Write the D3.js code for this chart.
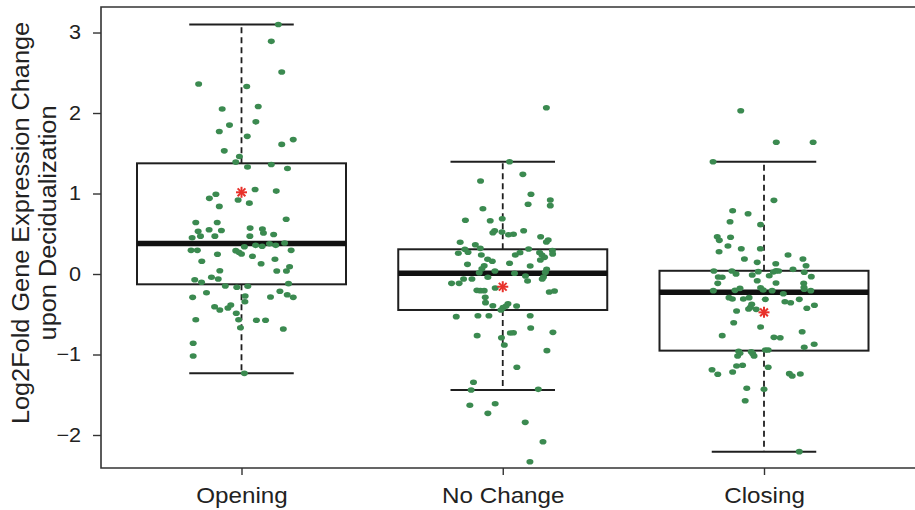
<!DOCTYPE html>
<html>
<head>
<meta charset="utf-8">
<script src="https://cdn.jsdelivr.net/npm/d3@7"></script>
<style>
  html, body { margin: 0; padding: 0; background: #fff; }
  svg { display: block; font-family: "Liberation Sans", Arial, Helvetica, sans-serif; }
</style>
</head>
<body>
<svg id="chart" width="915" height="510"></svg>
<script>
// Groups of genes by chromatin accessibility change
const categories = ["Opening", "No Change", "Closing"];

// Box-plot summaries (log2 fold change)
const whiskerHigh = [3.10, 1.395, 1.395];
const upperQuartile = [1.375, 0.307, 0.04];
const medians = [0.38, 0.01, -0.228];
const lowerQuartile = [-0.128, -0.447, -0.952];
const whiskerLow = [-1.234, -1.441, -2.207];
const meanValues = [1.015, -0.158, -0.476];

// Per-gene values and their horizontal jitter (in category units)
const openingValues = [3.10, 2.89, 2.51, 2.36, 2.33, 2.05, 2.08, 1.85, 1.89, 1.77, 1.71, 1.61, 1.67, 1.53, 1.46, 1.39, 1.33, 1.36, 1.31, 1.05, 1.03, 0.99, 0.94, 0.92, 0.88, 0.84, 0.68, 0.64, 0.64, 0.53, 0.55, 0.54, 0.57, 0.56, 0.51, 0.49, 0.47, 0.47, 0.45, 0.47, 0.385, 0.356, 0.344, 0.376, 0.356, 0.339, 0.294, 0.294, 0.29, 0.269, 0.248, 0.294, 0.245, 0.22, 0.158, 0.183, 0.128, 0.041, 0.037, 0.091, 0.037, -0.041, -0.062, -0.071, -0.103, -0.12, -0.149, -0.165, -0.153, -0.232, -0.215, -0.29, -0.273, -0.286, -0.257, -0.29, -0.406, -0.447, -0.422, -0.385, -0.344, -0.488, -0.568, -0.568, -0.575, -0.575, -0.667, -0.683, -0.861, -1.019, -1.234];
const openingJitter = [0.141, 0.114, 0.154, -0.164, 0.020, -0.074, 0.064, -0.046, 0.055, -0.085, 0.022, 0.154, 0.198, -0.066, -0.008, -0.022, 0.023, 0.114, 0.176, 0.052, 0.133, -0.098, -0.123, -0.013, 0.030, -0.085, 0.171, -0.175, -0.093, -0.166, -0.124, -0.077, 0.033, 0.080, 0.084, 0.123, -0.157, -0.102, -0.189, 0.032, 0.165, 0.054, 0.079, 0.107, 0.131, 0.011, -0.193, -0.169, -0.022, -0.010, 0, 0.190, -0.092, 0.042, -0.152, 0.128, 0.075, -0.083, 0.135, 0.184, 0.172, -0.115, -0.089, -0.179, -0.153, 0.180, -0.062, -0.018, 0.024, -0.134, 0.147, -0.187, 0.014, 0.111, 0.175, 0.198, -0.103, -0.083, -0.052, -0.041, 0.013, -0.020, -0.175, -0.011, 0.057, 0.092, -0.004, 0.160, -0.185, -0.185, 0.011];

const noChangeValues = [2.066, 1.395, 1.238, 1.155, 0.990, 0.866, 0.919, 0.849, 0.811, 0.667, 0.662, 0.687, 0.538, 0.513, 0.522, 0.488, 0.493, 0.538, 0.463, 0.398, 0.422, 0.394, 0.364, 0.307, 0.27, 0.319, 0.311, 0.236, 0.183, 0.158, 0.12, 0.133, 0.236, 0.265, 0.265, 0.236, 0.207, 0.174, 0.29, 0.248, 0.099, 0.103, 0.066, 0.016, 0.037, 0.058, 0.021, 0.009, 0.257, -0.025, -0.087, -0.041, -0.062, -0.062, -0.116, -0.116, -0.174, -0.203, -0.207, -0.207, -0.224, -0.211, -0.29, -0.356, -0.394, -0.37, -0.398, -0.418, -0.447, -0.398, -0.53, -0.518, -0.518, -0.518, -0.766, -0.791, -0.882, -0.733, -0.729, -0.671, -0.725, -0.952, -1.159, -1.345, -1.441, -1.433, -1.631, -1.611, -1.731, -1.843, -2.083, -2.332, -0.037, -0.062];
const noChangeJitter = [0.167, 0.026, 0.077, -0.085, 0.108, 0.097, 0.182, 0.182, -0.076, -0.143, -0.048, -0.002, -0.031, -0.038, -0.003, 0.022, 0.041, 0.080, 0.145, 0.167, 0.174, -0.163, -0.105, -0.145, -0.133, -0.086, 0.099, -0.082, -0.058, -0.040, -0.135, 0.026, 0.048, 0.066, 0.141, 0.150, 0.160, 0.144, 0.190, 0.191, 0.105, -0.071, -0.080, -0.090, -0.030, 0.168, 0.163, 0.045, -0.170, 0.087, 0.095, -0.057, -0.118, -0.150, -0.167, -0.196, -0.029, -0.099, -0.086, -0.071, 0.178, 0.198, -0.067, -0.066, -0.038, 0.020, 0.013, 0.001, -0.007, 0.053, -0.178, -0.095, -0.053, 0.105, -0.098, -0.005, 0.006, 0.029, 0.041, 0.107, 0.192, 0.169, 0.054, -0.112, -0.121, 0.136, -0.126, -0.029, -0.057, 0.086, 0.154, 0.104, 0.156, 0.151];

const closingValues = [2.029, 1.636, 1.636, 1.395, 0.915, 0.786, 0.749, 0.65, 0.613, 0.463, 0.418, 0.456, 0.348, 0.314, 0.314, 0.277, 0.236, 0.186, 0.186, 0.145, 0.128, 0.103, 0.037, 0.037, 0.0, 0.029, 0.025, 0.041, 0.037, 0.058, 0.021, -0.033, -0.037, -0.041, -0.012, -0.021, -0.083, -0.116, -0.112, -0.116, -0.19, -0.207, -0.203, -0.178, -0.17, -0.199, -0.207, -0.207, -0.245, -0.294, -0.311, -0.311, -0.294, -0.315, -0.344, -0.357, -0.315, -0.377, -0.414, -0.435, -0.439, -0.46, -0.426, -0.389, -0.605, -0.658, -0.766, -0.717, -0.787, -0.791, -0.911, -0.873, -0.96, -0.985, -1.019, -0.965, -0.99, -1.019, -0.944, -0.944, -1.143, -1.134, -1.189, -1.246, -1.217, -1.159, -1.238, -1.267, -1.242, -1.42, -1.433, -1.574, -2.207, -0.166];
const closingJitter = [-0.089, 0.047, 0.188, -0.195, 0.038, -0.120, -0.061, -0.130, -0.013, -0.179, -0.171, -0.128, -0.138, -0.087, -0.014, -0.172, 0.092, 0.149, -0.075, -0.026, 0.045, 0.161, -0.192, -0.123, -0.107, -0.022, 0.036, 0.046, 0.056, 0.111, 0.154, 0.181, -0.175, -0.160, -0.045, 0.020, -0.026, -0.177, 0.046, 0.152, 0.154, -0.194, -0.111, -0.092, -0.013, -0.003, 0.031, 0.179, 0.074, -0.134, -0.121, -0.079, -0.057, 0.005, 0.080, 0.102, 0.135, -0.047, -0.052, -0.059, -0.030, -0.105, 0.164, 0.193, -0.116, -0.013, -0.160, 0.146, 0.038, 0.062, 0.154, 0.192, -0.097, -0.092, -0.101, -0.049, -0.043, -0.038, 0.005, 0.016, -0.105, -0.082, -0.199, -0.177, -0.120, 0.016, 0.097, 0.108, 0.139, -0.066, 0, -0.072, 0.135, 0.153];

const yTicks = [-2, -1, 0, 1, 2, 3];
const titleLines = ["Log2Fold Gene Expression Change", "upon Decidualization"];

const groupValues = [openingValues, noChangeValues, closingValues];
const groupJitter = [openingJitter, noChangeJitter, closingJitter];

const svg = d3.select("#chart");

const plotLeft = 101, plotTop = 7, plotBottom = 468;
const x = d3.scaleLinear().domain([1, 3]).range([241.5, 764]);
const y = d3.scaleLinear().domain([-2.41, 3.317]).range([plotBottom, plotTop]);
const plotRight = x(3.62);

const ink = "#1f1f1f";
const boxHalf = 0.4, capHalf = 0.2;

// The lettering is a touch wider than Arial: widen each label along its run
function widen(sel, factor) {
  sel.each(function () {
    const w = this.getComputedTextLength();
    d3.select(this).attr("textLength", w * factor).attr("lengthAdjust", "spacingAndGlyphs");
  });
}

// Plot frame (left, top, bottom)
svg.append("path")
  .attr("d", `M${plotRight},${plotTop}H${plotLeft}V${plotBottom}H${plotRight}`)
  .attr("fill", "none").attr("stroke", "#333").attr("stroke-width", 1.6);

// Y axis
const yAxis = d3.axisLeft(y).tickValues(yTicks).tickSize(8).tickPadding(12)
  .tickFormat(d => d < 0 ? "\u2212" + Math.abs(d) : d);
const gy = svg.append("g").attr("transform", `translate(${plotLeft},0)`).call(yAxis);
gy.select(".domain").remove();
gy.selectAll(".tick line").attr("stroke", "#333").attr("stroke-width", 1.4);
gy.selectAll(".tick text").attr("fill", "#222").style("font-size", "20px")
  .attr("font-family", "Liberation Sans, Arial, sans-serif").call(widen, 1.08);

// X axis
const xAxis = d3.axisBottom(x).tickValues([1, 2, 3]).tickSize(7).tickPadding(12)
  .tickFormat((d, i) => categories[i]);
const gx = svg.append("g").attr("transform", `translate(0,${plotBottom})`).call(xAxis);
gx.select(".domain").remove();
gx.selectAll(".tick line").attr("stroke", "#333").attr("stroke-width", 1.4);
gx.selectAll(".tick text").attr("fill", "#222").style("font-size", "22px")
  .attr("font-family", "Liberation Sans, Arial, sans-serif").call(widen, 1.1);

// Y axis title, two lines
const titleY = [29, 56];
svg.append("g").attr("transform", "rotate(-90)")
  .selectAll("text").data(titleLines).enter().append("text")
  .attr("x", -223).attr("y", (d, i) => titleY[i])
  .attr("text-anchor", "middle").attr("fill", "#222").style("font-size", "23px")
  .text(d => d)
  .call(widen, 1.1);

// Box plots
const boxes = svg.append("g");
categories.forEach((c, i) => {
  const cx = i + 1;
  const g = boxes.append("g");
  // dashed whiskers
  g.append("line").attr("x1", x(cx)).attr("x2", x(cx))
    .attr("y1", y(upperQuartile[i])).attr("y2", y(whiskerHigh[i]))
    .attr("stroke", ink).attr("stroke-width", 1.8).attr("stroke-dasharray", "6,4");
  g.append("line").attr("x1", x(cx)).attr("x2", x(cx))
    .attr("y1", y(lowerQuartile[i])).attr("y2", y(whiskerLow[i]))
    .attr("stroke", ink).attr("stroke-width", 1.8).attr("stroke-dasharray", "6,4");
  // caps
  [whiskerHigh[i], whiskerLow[i]].forEach(v => {
    g.append("line").attr("x1", x(cx - capHalf)).attr("x2", x(cx + capHalf))
      .attr("y1", y(v)).attr("y2", y(v)).attr("stroke", ink).attr("stroke-width", 2);
  });
  // box
  g.append("rect").attr("x", x(cx - boxHalf)).attr("y", y(upperQuartile[i]))
    .attr("width", x(cx + boxHalf) - x(cx - boxHalf))
    .attr("height", y(lowerQuartile[i]) - y(upperQuartile[i]))
    .attr("fill", "none").attr("stroke", ink).attr("stroke-width", 2);
  // median
  g.append("line").attr("x1", x(cx - boxHalf)).attr("x2", x(cx + boxHalf))
    .attr("y1", y(medians[i])).attr("y2", y(medians[i]))
    .attr("stroke", "#111").attr("stroke-width", 5.5);
});

// Jittered gene points
const pts = svg.append("g");
groupValues.forEach((vals, i) => {
  pts.selectAll(null).data(vals.map((v, k) => ({ v, j: groupJitter[i][k] })))
    .enter().append("ellipse")
    .attr("cx", d => x(i + 1 + d.j)).attr("cy", d => y(d.v))
    .attr("rx", 3.5).attr("ry", 2.8)
    .attr("fill", "#3b8a50");
});

// Mean markers (asterisks)
const star = svg.append("g");
meanValues.forEach((m, i) => {
  const cx = x(i + 1), cy = y(m), r = 5.5;
  const g = star.append("g").attr("transform", `translate(${cx},${cy})`);
  [0, 45, 90, 135].forEach(a => {
    const t = a * Math.PI / 180;
    g.append("line").attr("x1", -r * Math.cos(t)).attr("y1", -r * Math.sin(t))
      .attr("x2", r * Math.cos(t)).attr("y2", r * Math.sin(t))
      .attr("stroke", "#e8322b").attr("stroke-width", 2);
  });
});
</script>
</body>
</html>
